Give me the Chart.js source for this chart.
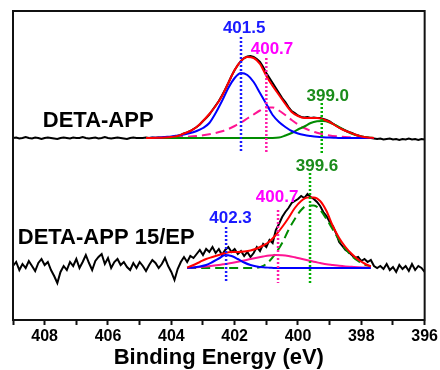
<!DOCTYPE html>
<html>
<head>
<meta charset="utf-8">
<script src="https://cdn.jsdelivr.net/npm/chart.js@4.4.1/dist/chart.umd.min.js"></script>
<style>
  html, body { margin: 0; padding: 0; background: #fff; }
  #wrap { width: 440px; height: 370px; }
</style>
</head>
<body>
<div id="wrap"><canvas id="xps"></canvas></div>
<script>
// binding energy of the raw N1s scans (eV)
const energy = [
  409.0, 408.9, 408.8, 408.7, 408.6, 408.5, 408.4, 408.3, 408.2, 408.1,
  408.0, 407.9, 407.8, 407.7, 407.6, 407.5, 407.4, 407.3, 407.2, 407.1,
  407.0, 406.9, 406.8, 406.7, 406.6, 406.5, 406.4, 406.3, 406.2, 406.1,
  406.0, 405.9, 405.8, 405.7, 405.6, 405.5, 405.4, 405.3, 405.2, 405.1,
  405.0, 404.9, 404.8, 404.7, 404.6, 404.5, 404.4, 404.3, 404.2, 404.1,
  404.0, 403.9, 403.8, 403.7, 403.6, 403.5, 403.4, 403.3, 403.2, 403.1,
  403.0, 402.9, 402.8, 402.7, 402.6, 402.5, 402.4, 402.3, 402.2, 402.1,
  402.0, 401.9, 401.8, 401.7, 401.6, 401.5, 401.4, 401.3, 401.2, 401.1,
  401.0, 400.9, 400.8, 400.7, 400.6, 400.5, 400.4, 400.3, 400.2, 400.1,
  400.0, 399.9, 399.8, 399.7, 399.6, 399.5, 399.4, 399.3, 399.2, 399.1,
  399.0, 398.9, 398.8, 398.7, 398.6, 398.5, 398.4, 398.3, 398.2, 398.1,
  398.0, 397.9, 397.8, 397.7, 397.6, 397.5, 397.4, 397.3, 397.2, 397.1,
  397.0, 396.9, 396.8, 396.7, 396.6, 396.5, 396.4, 396.3, 396.2, 396.1,
  396.0
];

// raw intensity (stacked, arbitrary units)
const rawDetaApp = [
  182, 182.5, 181.5, 182, 183, 182, 181.5, 182.5, 182, 181,
  182, 182.5, 182, 181.5, 181, 182, 182.5, 182, 181.5, 182.5,
  182, 182, 183, 182, 181.5, 182, 182.5, 181.5, 182, 183,
  182, 181.5, 182, 182.5, 182, 181.5, 181, 182, 182.5, 182,
  182, 182, 182.5, 182, 182.5, 182.2, 182.5, 182.2, 183, 182.8,
  183, 183.5, 184, 185, 186.5, 187.5, 189, 191, 193, 195.5,
  199, 202, 205.5, 210, 214.5, 219, 224.5, 230.5, 237, 244,
  250, 255, 259, 262, 263.5, 264, 263, 261, 258, 253,
  247, 242, 237, 232, 227, 222, 218, 213, 209, 207,
  204.5, 203, 202.5, 203, 202, 202.5, 202, 202, 201, 200,
  198.5, 196.5, 194.5, 192.5, 191, 189.5, 188, 187, 185.5, 184.5,
  183.5, 183, 182.5, 182, 181.5, 181, 181.5, 180.5, 181, 181.5,
  180.5, 181, 180, 181, 180.5, 181.5, 180.5, 181, 180, 181,
  180.5
];
const rawDetaAppEp = [
  54, 58, 50, 56, 52, 59, 54, 49, 57, 61,
  55, 58, 50, 44, 37, 48, 54, 50, 58, 54,
  61, 52, 58, 65, 57, 50, 59, 63, 66, 56,
  62, 52, 58, 61, 55, 58, 53, 50, 57, 52,
  58, 54, 49, 55, 60, 57, 52, 56, 62, 54,
  48, 40, 51, 58, 63, 58, 64, 62, 66, 70,
  65, 71, 68, 73, 67, 71, 65, 70, 73, 68,
  71, 66, 69, 64, 68, 63, 67, 73, 69, 76,
  73, 80, 77, 90, 96, 103, 108, 112, 117, 119,
  121, 124, 122, 126, 123, 121, 118, 114, 108, 104,
  98, 94, 87, 78, 74, 70, 68, 65, 62, 63,
  59, 61, 58, 60, 54, 52, 54, 51, 56, 50,
  53, 48, 55, 51, 54, 49, 56, 50, 54, 52,
  48
];

// peak fitting, DETA-APP
const fitEnergyTop = [
  404.8, 404.6, 404.4, 404.2, 404.0, 403.8, 403.6, 403.4, 403.2, 403.0,
  402.8, 402.6, 402.4, 402.2, 402.0, 401.8, 401.6, 401.4, 401.2, 401.0,
  400.8, 400.6, 400.4, 400.2, 400.0, 399.8, 399.6, 399.4, 399.2, 399.0,
  398.8, 398.6, 398.4, 398.2, 398.0, 397.8, 397.6
];
const envelopeTop = [
  182, 182, 182.2, 182.5, 183, 184, 186.5, 189, 193, 199,
  206, 214, 224, 237, 250, 259, 263, 262, 256, 244,
  234, 225, 216, 208, 204, 202, 202, 202, 200.5, 198,
  194, 190.5, 188, 185.5, 183.5, 182.5, 182
];
const peak4015Top = [
  182, 182.2, 182.5, 183, 183.5, 184.5, 185.5, 187, 189, 192,
  197, 207, 219, 232, 242, 247, 245, 238, 227, 216,
  205, 198, 193, 189, 186.5, 185, 184, 183.2, 182.7, 182.4,
  182.2, 182, 182, 182, 182, 182, 182
];
const peak4007Top = [
  182, 182, 182.2, 182.3, 182.5, 182.7, 183, 183.4, 184, 184.7,
  185.7, 187, 188.7, 191, 194, 197.5, 201.5, 205.5, 209.5, 212.5,
  212.5, 209.5, 205, 200, 195.5, 192, 189.2, 187.2, 185.7, 184.6,
  183.8, 183.2, 182.8, 182.5, 182.3, 182.1, 182
];
const peak3990Top = [
  182, 182, 182, 182, 182, 182, 182, 182, 182, 182,
  182, 182, 182, 182, 182, 182, 182, 182, 182, 182,
  182, 182.4, 184.5, 187, 190.5, 193.5, 197, 198.7, 199, 197.5,
  194.5, 191, 187.7, 185.2, 183.6, 182.6, 182
];

// peak fitting, DETA-APP 15/EP
const fitEnergyBottom = [
  403.5, 403.3, 403.1, 402.9, 402.7, 402.5, 402.3, 402.1, 401.9, 401.7,
  401.5, 401.3, 401.1, 400.9, 400.7, 400.5, 400.3, 400.1, 399.9, 399.7,
  399.5, 399.3, 399.1, 398.9, 398.7, 398.5, 398.3, 398.1, 397.9, 397.7
];
const envelopeBottom = [
  52.5, 55, 58, 61, 63, 65, 67, 68, 68, 68.5,
  69.5, 71.5, 74.5, 78.5, 85, 93, 102, 112, 119, 122.5,
  122.5, 119, 109, 94, 82, 73, 66, 60.5, 56.5, 53.5
];
const peak4023Bottom = [
  52, 52.5, 53.5, 55, 58, 61.5, 65, 64, 61, 57.5,
  55, 53.5, 52.7, 52.3, 52, 52, 52, 52, 52, 52,
  52, 52, 52, 52, 52, 52, 52, 52, 52, 52
];
const peak4007Bottom = [
  52, 52.5, 53, 53.5, 54.2, 55, 56, 57, 58.2, 59.5,
  61, 62.3, 63.5, 64.5, 65, 64.8, 64, 62.7, 61.2, 59.7,
  58.2, 57, 55.8, 55, 54.2, 53.6, 53.2, 52.8, 52.5, 52.2
];
const peak3996Bottom = [
  52, 52, 52, 52, 52, 52, 52, 52, 52, 52,
  52, 52.3, 54, 59, 67, 77, 90, 101, 110, 114.5,
  114.5, 110, 101, 90.5, 80, 71, 64, 59, 55.5, 53.5
];

// peak markers: where the dotted line is drawn, its extent, and its label
const markTopE = [401.8, 401.0, 399.25];
const markTopFrom = [283, 262, 217];
const markTopTo = [168, 168, 167];
const markTopText = ['401.5', '400.7', '399.0'];
const markTopTextE = [401.70, 400.82, 399.06];
const markTopTextY = [292, 271, 224];

const markBotE = [402.27, 400.63, 399.62];
const markBotFrom = [93, 110, 147];
const markBotTo = [38, 37, 37];
const markBotText = ['402.3', '400.7', '399.6'];
const markBotTextE = [402.13, 400.66, 399.40];
const markBotTextY = [102, 123, 154];

const sampleNames = ['DETA-APP', 'DETA-APP 15/EP'];
const sampleNameE = [408.06, 408.85];
const sampleNameY = [199, 82];

const xTicks = [408, 406, 404, 402, 400, 398, 396];

const BLUE = '#0000ff', PINK = '#ff1493', GREEN = '#008c00', RED = '#ff0000';
const markColors = ['#1a1aff', '#ff1aa8', '#00b000'];
const textColors = ['#1a1aff', '#ff00ff', '#1a8c1a'];

const pts = (xs, ys) => xs.map((x, i) => ({ x: x, y: ys[i] }));

function curve(data, color, dash) {
  return {
    data: data, borderColor: color, borderWidth: 2, borderDash: dash || [],
    pointRadius: 0, cubicInterpolationMode: 'monotone', fill: false
  };
}
function marker(x, y0, y1, color) {
  return {
    data: [{ x: x, y: y0 }, { x: x, y: y1 }], borderColor: color,
    borderWidth: 2.5, borderDash: [2, 2], pointRadius: 0, fill: false
  };
}

const datasets = [];
markTopE.forEach((e, i) => datasets.push(marker(e, markTopFrom[i], markTopTo[i], markColors[i])));
markBotE.forEach((e, i) => datasets.push(marker(e, markBotFrom[i], markBotTo[i], markColors[i])));
datasets.push(curve(pts(fitEnergyTop, envelopeTop), RED));
datasets.push(curve(pts(fitEnergyBottom, envelopeBottom), RED));
datasets.push(curve(pts(fitEnergyTop, peak4015Top), BLUE));
datasets.push(curve(pts(fitEnergyTop, peak3990Top), GREEN));
datasets.push(curve(pts(fitEnergyTop, peak4007Top), PINK, [9, 5]));
datasets.push(curve(pts(fitEnergyBottom, peak4023Bottom), BLUE));
datasets.push(curve(pts(fitEnergyBottom, peak4007Bottom), PINK));
datasets.push(curve(pts(fitEnergyBottom, peak3996Bottom), GREEN, [9, 5]));
datasets.push({ data: pts(energy, rawDetaApp), borderColor: '#000', borderWidth: 2, pointRadius: 0, tension: 0 });
datasets.push({ data: pts(energy, rawDetaAppEp), borderColor: '#000', borderWidth: 2, pointRadius: 0, tension: 0 });

const FONT = '"Liberation Sans", Arial, sans-serif';
Chart.defaults.font.family = FONT;
Chart.defaults.color = '#000';

const annotate = {
  id: 'annotate',
  afterDatasetsDraw(chart) {
    const { ctx, chartArea: a, scales: { x, y } } = chart;
    ctx.save();
    ctx.strokeStyle = '#111';
    ctx.lineWidth = 2;
    ctx.strokeRect(a.left, a.top, a.right - a.left, a.bottom - a.top);

    ctx.textAlign = 'center';
    ctx.textBaseline = 'middle';
    ctx.font = 'bold 17px ' + FONT;
    markTopText.forEach((t, i) => {
      ctx.fillStyle = textColors[i];
      ctx.fillText(t, x.getPixelForValue(markTopTextE[i]), y.getPixelForValue(markTopTextY[i]));
    });
    markBotText.forEach((t, i) => {
      ctx.fillStyle = textColors[i];
      ctx.fillText(t, x.getPixelForValue(markBotTextE[i]), y.getPixelForValue(markBotTextY[i]));
    });

    ctx.textAlign = 'left';
    ctx.fillStyle = '#000';
    ctx.font = 'bold 22px ' + FONT;
    sampleNames.forEach((t, i) => {
      ctx.fillText(t, x.getPixelForValue(sampleNameE[i]), y.getPixelForValue(sampleNameY[i]));
    });
    ctx.restore();
  }
};

new Chart(document.getElementById('xps'), {
  type: 'line',
  data: { datasets: datasets },
  options: {
    responsive: true,
    maintainAspectRatio: false,
    animation: false,
    events: [],
    layout: { padding: { left: 13, right: 13, top: 11, bottom: 0 } },
    plugins: { legend: { display: false }, tooltip: { enabled: false } },
    scales: {
      x: {
        type: 'linear',
        reverse: true,
        min: 396,
        max: 409,
        afterFit: s => { s.height = 50; },
        border: { display: true, color: '#111', width: 2 },
        grid: { drawOnChartArea: false, drawTicks: true, tickLength: 5, tickWidth: 2, tickColor: '#111' },
        ticks: {
          stepSize: 1,
          autoSkip: false,
          maxRotation: 0,
          padding: 2,
          font: { size: 16, weight: 'bold' },
          callback: v => xTicks.includes(v) ? String(v) : ''
        },
        title: {
          display: true,
          text: 'Binding Energy (eV)',
          font: { size: 22, weight: 'bold', lineHeight: 1.1 },
          padding: { top: 0, bottom: 0 }
        }
      },
      y: { display: false, min: 0, max: 309 }
    }
  },
  plugins: [annotate]
});
</script>
</body>
</html>
